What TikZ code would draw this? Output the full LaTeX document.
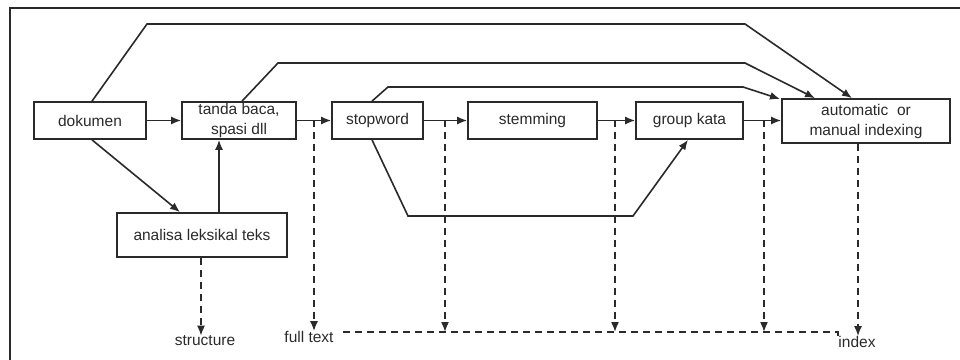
\documentclass[tikz,border=0pt]{standalone}
\usepackage{fontspec}
\setmainfont{Liberation Sans}
\usetikzlibrary{arrows.meta}
\definecolor{ink}{HTML}{2a2a2a}
\tikzset{
  box/.style={draw=ink, line width=1.7pt, rectangle, inner sep=0pt, align=center, text=ink,
    font=\fontsize{15.5}{20}\selectfont},
  lbl/.style={inner sep=0pt, text=ink, font=\fontsize{15.5}{18}\selectfont},
  con/.style={draw=ink, line width=1.6pt, -{Latex[length=10pt,width=8pt]}},
  dsh/.style={draw=ink, line width=1.6pt, dash pattern=on 7pt off 5pt},
}
\begin{document}
\begin{tikzpicture}[x=1pt,y=-1pt]
\useasboundingbox (0,0) rectangle (960,359);
\fill[white] (0,0) rectangle (960,359);
% frame
\draw[ink, line width=1.7pt] (10,365) -- (10,8) -- (965,8);

% nodes
\node[box, minimum width=112pt, minimum height=37pt] (dok) at (90,120.5) {dokumen};
\node[box, minimum width=114pt, minimum height=37pt] (tanda) at (239,120.5) {tanda baca,\\spasi dll};
\node[box, minimum width=91pt, minimum height=37pt] (stop) at (377.5,120.5) {stopword};
\node[box, minimum width=129pt, minimum height=37pt] (stem) at (532.5,120.5) {stemming};
\node[box, minimum width=107pt, minimum height=37pt] (group) at (689.5,120.5) {group kata};
\node[box, minimum width=168pt, minimum height=44pt] (auto) at (866,121) {automatic\ \ or\\manual indexing};
\node[box, minimum width=170pt, minimum height=44pt] (ana) at (202,235) {analisa leksikal teks};

\node[lbl] (structure) at (205,341) {structure};
\node[lbl] (fulltext) at (309,337) {full text};
\node[lbl] (index) at (857,342) {index};

% main row arrows
\draw[con] (dok.east) -- (tanda.west);
\draw[con] (tanda.east) -- (stop.west);
\draw[con] (stop.east) -- (stem.west);
\draw[con] (stem.east) -- (group.west);
\draw[con] (group.east) -- (auto.west |- group.east);

% analisa
\draw[con] (ana.north -| 219,0) -- (tanda.south -| 219,0);
\draw[con] (dok.south -| 92,0) -- (ana.north -| 180,0);
\draw[dsh, -{Latex[length=10pt,width=8pt]}] (ana.south -| 201,0) -- (structure.north -| 201,0);

% top bypasses
\draw[con] (dok.north -| 92,0) -- (147,24) -- (745,24) -- (auto.north -| 852,0);
\draw[con] (tanda.north -| 242,0) -- (278,63) -- (745,63) -- (auto.north -| 815,0);
\draw[con] (stop.north -| 372,0) -- (388,87) -- (743,87) -- (780,99);

% bottom bypass stopword -> group kata
\draw[con] (stop.south -| 372,0) -- (408,216) -- (633,216) -- (group.south -| 688,0);

% dashed outputs
\coordinate (d1) at (314,120);
\coordinate (d2) at (445,120);
\coordinate (d3) at (615,120);
\coordinate (d4) at (764,120);
\coordinate (hl) at (343,332);
\coordinate (hr) at (838,332);
\draw[dsh, -{Latex[length=10pt,width=8pt]}] (d1) -- (fulltext.north -| d1);
\draw[dsh, -{Latex[length=10pt,width=8pt]}] (d2) -- (d2 |- hl);
\draw[dsh, -{Latex[length=10pt,width=8pt]}] (d3) -- (d3 |- hl);
\draw[dsh, -{Latex[length=10pt,width=8pt]}] (d4) -- (d4 |- hl);
\draw[dsh, -{Latex[length=10pt,width=8pt]}] (auto.south -| 858,0) -- (index.north -| 858,0);
\draw[dsh] (hl) -- (hr) -- (838,337);
\end{tikzpicture}
\end{document}
